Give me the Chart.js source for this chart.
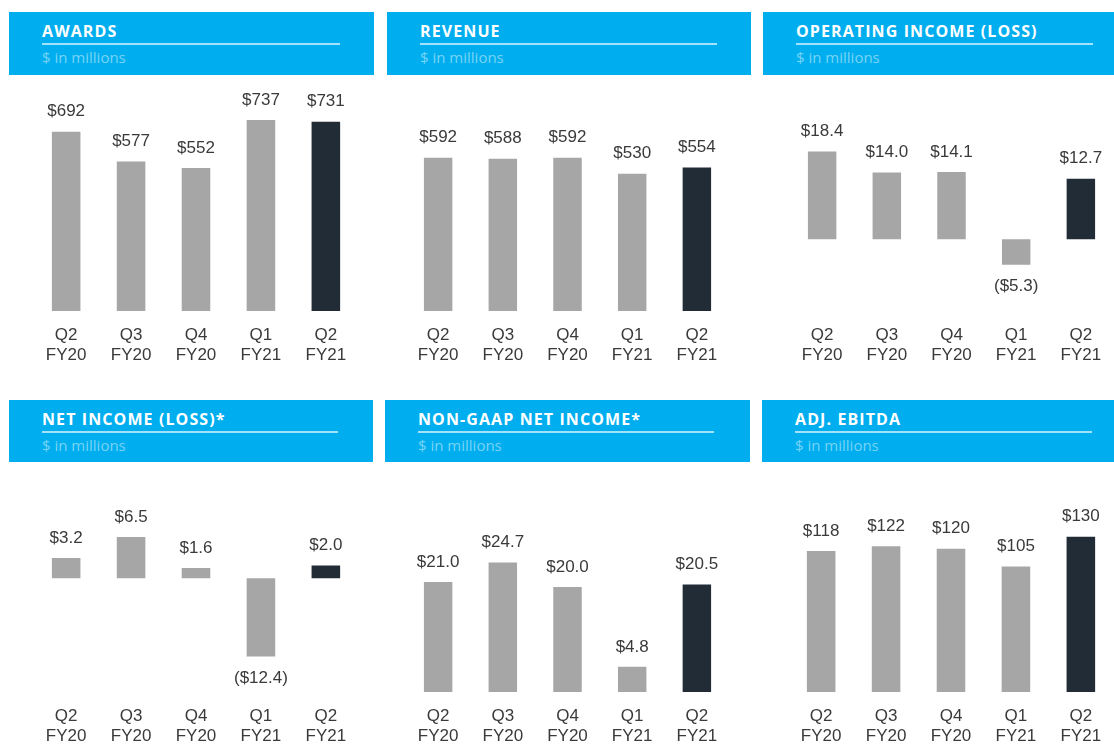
<!DOCTYPE html>
<html>
<head>
<meta charset="utf-8">
<script src="https://cdn.jsdelivr.net/npm/chart.js@4.4.1/dist/chart.umd.min.js"></script>
<style>
    html, body {
        margin: 0;
        padding: 0;
        background: #ffffff;
        width: 1114px;
        height: 747px;
        overflow: hidden;
        position: relative;
        font-family: "Liberation Sans", Arial, sans-serif;
    }
    .header {
        position: absolute;
        background: #00aeef;
        color: #ffffff;
    }
    .header .title {
        position: absolute;
        left: 33px;
        top: 9px;
        font-family: "Open Sans", sans-serif;
        font-weight: 700;
        font-size: 16px;
        letter-spacing: 1.1px;
        line-height: 20px;
        white-space: nowrap;
    }
    .header .rule {
        position: absolute;
        left: 33px;
        top: 31px;
        height: 2px;
        background: rgba(190, 235, 252, 0.85);
    }
    .header .sub {
        position: absolute;
        left: 33px;
        top: 36px;
        font-family: "Open Sans", sans-serif;
        font-size: 15px;
        line-height: 19px;
        color: #78d3f5;
        white-space: nowrap;
    }
    .panel {
        position: absolute;
    }
</style>
</head>
<body>

<div class="header" style="left:9px;top:12px;width:365px;height:63px;">
    <div class="title">AWARDS</div><div class="rule" style="width:298px"></div><div class="sub">$ in millions</div>
</div>
<div class="header" style="left:387px;top:12px;width:364px;height:63px;">
    <div class="title">REVENUE</div><div class="rule" style="width:297px"></div><div class="sub">$ in millions</div>
</div>
<div class="header" style="left:763px;top:12px;width:360px;height:63px;">
    <div class="title">OPERATING INCOME (LOSS)</div><div class="rule" style="width:297px"></div><div class="sub">$ in millions</div>
</div>
<div class="header" style="left:9px;top:400px;width:364px;height:62px;">
    <div class="title">NET INCOME (LOSS)*</div><div class="rule" style="width:296px"></div><div class="sub">$ in millions</div>
</div>
<div class="header" style="left:385px;top:400px;width:365px;height:62px;">
    <div class="title">NON-GAAP NET INCOME*</div><div class="rule" style="width:296px"></div><div class="sub">$ in millions</div>
</div>
<div class="header" style="left:762px;top:400px;width:360px;height:62px;">
    <div class="title">ADJ. EBITDA</div><div class="rule" style="width:297px"></div><div class="sub">$ in millions</div>
</div>

<div class="panel" style="left:32px;top:76px;width:328px;height:285px;"><canvas id="awards-chart"></canvas></div>
<div class="panel" style="left:404px;top:76px;width:327px;height:285px;"><canvas id="revenue-chart"></canvas></div>
<div class="panel" style="left:788px;top:76px;width:327px;height:285px;"><canvas id="opincome-chart"></canvas></div>
<div class="panel" style="left:32px;top:457px;width:328px;height:285px;"><canvas id="netincome-chart"></canvas></div>
<div class="panel" style="left:404px;top:457px;width:327px;height:285px;"><canvas id="nongaap-chart"></canvas></div>
<div class="panel" style="left:787px;top:457px;width:328px;height:285px;"><canvas id="ebitda-chart"></canvas></div>

<script>
// quarters shown on every panel
const quarters = [["Q2", "FY20"], ["Q3", "FY20"], ["Q4", "FY20"], ["Q1", "FY21"], ["Q2", "FY21"]];

// values, $ in millions
const awards = [692, 577, 552, 737, 731];
const revenue = [592, 588, 592, 530, 554];
const operatingIncome = [18.4, 14.0, 14.1, -5.3, 12.7];
const netIncome = [3.2, 6.5, 1.6, -12.4, 2.0];
const nonGaapNetIncome = [21.0, 24.7, 20.0, 4.8, 20.5];
const adjEbitda = [118, 122, 120, 105, 130];

const grayBar = "#a6a6a6";
const darkBar = "#212c37";
const textColor = "#3a3a3a";

// draws "$692" above positive bars and "($5.3)" below negative ones
const valueLabels = {
    id: 'valueLabels',
    afterDatasetsDraw(chart, args, opts) {
        const ctx = chart.ctx;
        const meta = chart.getDatasetMeta(0);
        const values = chart.data.datasets[0].data;
        ctx.save();
        ctx.font = '17px "Liberation Sans", Arial, sans-serif';
        ctx.fillStyle = textColor;
        ctx.textAlign = 'center';
        ctx.textBaseline = 'middle';
        meta.data.forEach((bar, i) => {
            const v = values[i];
            const txt = '$' + Math.abs(v).toFixed(opts.decimals);
            if (v >= 0) {
                ctx.fillText(txt, bar.x, bar.y - 20);
            } else {
                ctx.fillText('(' + txt + ')', bar.x, bar.y + 22);
            }
        });
        ctx.restore();
    }
};

function makeChart(canvasId, values, min, max, decimals) {
    return new Chart(document.getElementById(canvasId), {
        type: 'bar',
        data: {
            labels: quarters,
            datasets: [{
                data: values,
                backgroundColor: values.map((v, i) => i === values.length - 1 ? darkBar : grayBar),
                borderWidth: 0,
                categoryPercentage: 1,
                barPercentage: 0.44
            }]
        },
        options: {
            responsive: true,
            maintainAspectRatio: false,
            animation: false,
            layout: {
                padding: {top: 20, left: 0, right: 0, bottom: 0}
            },
            plugins: {
                legend: {display: false},
                tooltip: {enabled: false},
                valueLabels: {decimals: decimals}
            },
            scales: {
                x: {
                    grid: {display: false, drawTicks: false},
                    border: {display: false},
                    ticks: {
                        color: textColor,
                        padding: 14,
                        font: {family: '"Liberation Sans", Arial, sans-serif', size: 17, lineHeight: 1.18}
                    },
                    afterFit: function (scale) {
                        scale.height = 50;
                    }
                },
                y: {
                    display: false,
                    min: min,
                    max: max
                }
            }
        },
        plugins: [valueLabels]
    });
}

makeChart('awards-chart', awards, 0, 830, 0);
makeChart('revenue-chart', revenue, 0, 830, 0);
makeChart('opincome-chart', operatingIncome, -15, 30, 1);
makeChart('netincome-chart', netIncome, -18, 16, 1);
makeChart('nongaap-chart', nonGaapNetIncome, 0, 41, 1);
makeChart('ebitda-chart', adjEbitda, 0, 180, 0);
</script>
</body>
</html>
